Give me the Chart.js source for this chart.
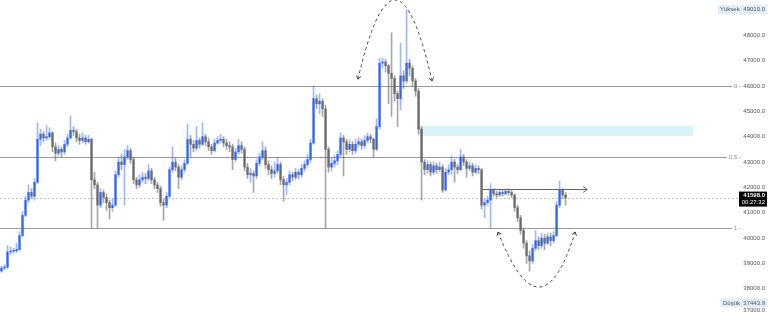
<!DOCTYPE html>
<html lang="tr">
<head>
<meta charset="UTF-8">
<title>Fiyat grafiği</title>
<script src="https://cdn.jsdelivr.net/npm/chart.js"></script>
<style>
  html, body { margin: 0; padding: 0; background: #fff; }
  .wrap { width: 768px; height: 315px; position: relative; }
</style>
</head>
<body>
<div class="wrap"><canvas id="chart"></canvas></div>
<script>
// candle data (one candle per slot, open = previous close)
const firstOpen = 38700;
const closes = [
  38820, 38850, 39450, 39480, 39500, 39550, 40100, 40900, 41500, 41800,
  41650, 42200, 43900, 44100, 43950, 44000, 44150, 43600, 43350, 43500,
  43400, 43700, 43950, 44250, 44200, 43950, 43850, 43950, 43800, 43900,
  42300, 42100, 41300, 41800, 41600, 41400, 41200, 41300, 42500, 43000,
  42900, 43200, 43450, 43100, 42300, 42100, 42300, 42400, 42350, 42650,
  42300, 42100, 41950, 41400, 41300, 41650, 42700, 43000, 42800, 42400,
  42700, 42950, 43900, 43700, 43550, 43850, 43700, 44000, 43800, 43600,
  43450, 43750, 43850, 43900, 43750, 43650, 43600, 43100, 43400, 43650,
  43500, 42800, 42500, 42550, 42450, 42950, 43200, 43450, 42900, 42700,
  42550, 42650, 42900, 42300, 42100, 42200, 42500, 42400, 42600, 42500,
  42750, 42900, 43100, 43750, 45500, 45300, 45400, 45100, 43500, 42800,
  42950, 43050, 43300, 43950, 43800, 43500, 43700, 43450, 43700, 43800,
  43650, 43850, 44000, 43900, 43500, 44400, 46900, 46950, 46800, 46500,
  46300, 45700, 45500, 46400, 46200, 46900, 46700, 46200, 45800, 44300,
  43000, 42700, 42900, 42600, 42850, 42700, 42800, 41900, 42600, 42700,
  43000, 42800, 42700, 43200, 43000, 42750, 42850, 42600, 42750, 42700,
  41300, 41400, 41500, 41900, 41750, 41700, 41800, 41750, 41850, 41800,
  41700, 41200, 40800, 40300, 39800, 39300, 39100, 39600, 39900, 39700,
  40000, 39800, 40050, 39900, 40100, 41300, 41900, 41700, 41598
];
const highs = [
  38900, 38950, 39700, 39650, 39600, 39800, 40250, 41050, 41650, 42100,
  41950, 42350, 44550, 44300, 44200, 44450, 44350, 44200, 43750, 43650,
  43600, 43850, 44100, 44820, 44400, 44300, 44100, 44150, 44050, 44050,
  43950, 42600, 42200, 41950, 41900, 41750, 41500, 41550, 42650, 43200,
  43300, 43500, 43650, 43550, 43200, 42400, 42500, 42600, 42550, 42900,
  42750, 42400, 42200, 42050, 41550, 41800, 42800, 43600, 43150, 42900,
  42850, 43100, 44500, 44050, 43850, 44400, 43950, 44550, 44100, 43950,
  43700, 43900, 44000, 44100, 44000, 43900, 43800, 43700, 43550, 43900,
  43800, 43600, 42950, 42750, 42650, 43100, 43350, 43800, 43600, 43050,
  42850, 43000, 43200, 43000, 42450, 42350, 42650, 42600, 42750, 42700,
  42900, 43050, 43300, 43900, 46000, 45650, 45700, 45500, 45250, 43600,
  43150, 43250, 43450, 44150, 44050, 43900, 43850, 43800, 43900, 43950,
  43900, 44050, 44150, 44100, 43950, 44700, 47100, 47100, 47050, 46850,
  48100, 46400, 45800, 47700, 46600, 49010, 47050, 46800, 46300, 45900,
  44400, 43100, 43050, 43000, 43000, 42950, 43000, 42900, 42750, 42900,
  43250, 43100, 42900, 43500, 43300, 43100, 43000, 42950, 42900, 42850,
  42750, 41550, 41650, 42150, 41950, 41850, 41900, 41900, 41950, 41950,
  41900, 41750, 41300, 40900, 40400, 39900, 39500, 39750, 40300, 40050,
  40200, 40150, 40200, 40200, 40250, 41450, 42250, 41950, 41800
];
const lows = [
  38650, 38750, 38800, 39350, 39400, 39420, 39500, 40050, 40850, 41400,
  41550, 41500, 42150, 43650, 43800, 43850, 43900, 43400, 43050, 43250,
  43200, 43300, 43600, 43900, 44050, 43800, 43700, 43750, 43700, 43750,
  40400, 41950, 40400, 41200, 41400, 41100, 40750, 41050, 41250, 42400,
  42700, 41300, 43100, 42950, 42150, 41950, 42000, 42200, 42150, 42250,
  42150, 41950, 41800, 41250, 40700, 41200, 41600, 42600, 42650, 41950,
  42300, 42600, 42900, 43200, 43400, 43450, 43550, 43650, 43650, 43450,
  43300, 43400, 43700, 43750, 43600, 43500, 43400, 42700, 43000, 43300,
  43350, 42650, 42350, 42200, 41800, 42350, 42850, 43100, 42750, 42500,
  42350, 42400, 42550, 42100, 41450, 41700, 42100, 42250, 42300, 42350,
  42400, 42650, 42800, 43000, 43700, 45100, 44900, 44800, 40400, 42600,
  42650, 42800, 42900, 43200, 42450, 43300, 43400, 43300, 43350, 43600,
  43500, 43550, 43750, 43750, 43200, 43450, 44300, 46700, 46550, 45300,
  44800, 45400, 44400, 45050, 45900, 46100, 46400, 46000, 45600, 44100,
  41500, 42500, 42550, 42450, 42500, 42550, 42600, 41800, 41850, 42500,
  42500, 42200, 42550, 42650, 42850, 42400, 42650, 42450, 42550, 42550,
  41150, 40800, 41300, 40400, 41650, 41600, 41650, 41650, 41700, 41700,
  41600, 41050, 40650, 40150, 39600, 39000, 38700, 39000, 39500, 39550,
  39600, 39550, 39750, 39700, 39800, 40050, 41200, 41550, 41300
];

// axis / markers
const priceTicks = [37000, 38000, 39000, 40000, 41000, 42000, 43000, 44000, 45000, 46000, 47000, 48000];
const fibLevels = [46000, 43200, 40400];
const fibNames = ['0', '0.5', '1'];
const lastPrice = 41598.0;
const countdown = '00:27:32';
const highMark = 49010.0;
const lowMark = 37443.9;
const zone = { from: 139, to: 230.5, low: 44030, high: 44420 };
const arrowLine = { from: 160.2, to: 195.2, price: 41920 };
const topArc = [[118.8, 46270], [131.2, 52550], [143.5, 46200]];
const bottomArc = [[165.5, 40240], [179.8, 35900], [191.2, 40240]];

const idx = closes.map((_, i) => i);
const opens = closes.map((c, i) => i === 0 ? firstOpen : closes[i - 1]);
const isUp = closes.map((c, i) => c >= opens[i]);

const FONT = '"Liberation Sans", Arial, sans-serif';

function arrowHead(ctx, tx, ty, dx, dy, len) {
  const d = Math.hypot(dx, dy);
  const ux = dx / d, uy = dy / d;
  const a = Math.PI / 5;
  ctx.beginPath();
  [a, -a].forEach(r => {
    const bx = -(ux * Math.cos(r) - uy * Math.sin(r));
    const by = -(ux * Math.sin(r) + uy * Math.cos(r));
    ctx.moveTo(tx, ty);
    ctx.lineTo(tx + bx * len, ty + by * len);
  });
  ctx.stroke();
}

function drawArc(ctx, x, y, pts) {
  const p = pts.map(([i, v]) => [x.getPixelForValue(i), y.getPixelForValue(v)]);
  ctx.beginPath();
  ctx.moveTo(p[0][0], p[0][1]);
  ctx.quadraticCurveTo(p[1][0], p[1][1], p[2][0], p[2][1]);
  ctx.stroke();
  ctx.setLineDash([]);
  arrowHead(ctx, p[0][0], p[0][1], p[0][0] - p[1][0], p[0][1] - p[1][1], 4);
  arrowHead(ctx, p[2][0], p[2][1], p[2][0] - p[1][0], p[2][1] - p[1][1], 4);
  ctx.setLineDash([3, 3]);
}

const overlay = {
  id: 'overlay',
  beforeDatasetsDraw(chart) {
    const { ctx, chartArea: a, scales: { x, y } } = chart;
    ctx.save();
    // supply zone
    const zx1 = x.getPixelForValue(zone.from), zx2 = x.getPixelForValue(zone.to);
    const zy1 = y.getPixelForValue(zone.high), zy2 = y.getPixelForValue(zone.low);
    ctx.fillStyle = '#d9f3f8';
    ctx.fillRect(zx1, zy1, zx2 - zx1, zy2 - zy1);

    // fib levels
    ctx.font = '6px ' + FONT;
    ctx.textAlign = 'right';
    ctx.textBaseline = 'middle';
    ctx.lineWidth = 1;
    fibLevels.forEach((v, k) => {
      const py = Math.round(y.getPixelForValue(v)) + 0.5;
      const label = fibNames[k] + ' -';
      const w = ctx.measureText(label).width;
      ctx.strokeStyle = '#9a9a9a';
      ctx.beginPath();
      ctx.moveTo(a.left, py);
      ctx.lineTo(a.right - w - 3, py);
      ctx.stroke();
      ctx.fillStyle = '#8a8a8a';
      ctx.fillText(label, a.right - 1, py);
    });

    // last price line
    const ly = Math.round(y.getPixelForValue(lastPrice)) + 0.5;
    ctx.strokeStyle = '#c4c4c4';
    ctx.setLineDash([2, 2]);
    ctx.beginPath();
    ctx.moveTo(a.left, ly);
    ctx.lineTo(a.right, ly);
    ctx.stroke();
    ctx.restore();
  },
  afterDatasetsDraw(chart) {
    const { ctx, scales: { x, y } } = chart;
    ctx.save();
    ctx.lineWidth = 1;
    // horizontal arrow
    const ay = Math.round(y.getPixelForValue(arrowLine.price)) + 0.5;
    const ax1 = x.getPixelForValue(arrowLine.from), ax2 = x.getPixelForValue(arrowLine.to);
    ctx.strokeStyle = '#666';
    ctx.beginPath();
    ctx.moveTo(ax1, ay);
    ctx.lineTo(ax2, ay);
    ctx.stroke();
    arrowHead(ctx, ax2, ay, 1, 0, 5);

    // dashed arcs
    ctx.strokeStyle = '#444';
    ctx.setLineDash([3, 3]);
    drawArc(ctx, x, y, topArc);
    drawArc(ctx, x, y, bottomArc);
    ctx.restore();
  },
  afterDraw(chart) {
    const { ctx, scales: { y } } = chart;
    const W = chart.width, H = chart.height;
    ctx.save();
    ctx.font = '6px ' + FONT;
    ctx.textBaseline = 'middle';
    ctx.textAlign = 'right';
    ctx.fillStyle = '#555';
    priceTicks.forEach(v => {
      const py = Math.min(y.getPixelForValue(v), H - 5);
      ctx.fillText(v.toFixed(1), W - 3, py);
    });

    // high / low markers
    const mark = (label, val, w) => {
      const py = y.getPixelForValue(val);
      ctx.fillStyle = '#e2edfb';
      ctx.fillRect(W - w, py - 4.5, w - 1, 9);
      ctx.fillStyle = '#555';
      ctx.textAlign = 'left';
      ctx.fillText(label, W - w + 2, py);
      ctx.textAlign = 'right';
      ctx.fillText(val.toFixed(1), W - 3, py);
    };
    mark('Yüksek', highMark, 50);
    mark('Düşük', lowMark, 47);

    // last price box
    const py = y.getPixelForValue(lastPrice);
    ctx.fillStyle = '#000';
    ctx.fillRect(W - 29, py - 6, 28, 15);
    ctx.fillStyle = '#fff';
    ctx.textAlign = 'right';
    ctx.font = 'bold 6px ' + FONT;
    ctx.fillText(lastPrice.toFixed(1), W - 3, py - 2);
    ctx.font = '6px ' + FONT;
    ctx.fillText(countdown, W - 3, py + 5);
    ctx.restore();
  }
};

new Chart(document.getElementById('chart'), {
  type: 'bar',
  data: {
    datasets: [
      {
        label: 'body',
        data: idx.map(i => ({ x: i, y: [opens[i], closes[i]] })),
        backgroundColor: isUp.map(u => u ? '#3064f4' : '#6a6a6a'),
        barThickness: 1.6,
        minBarLength: 1,
        grouped: false,
        order: 0
      },
      {
        label: 'wick',
        data: idx.map(i => ({ x: i, y: [lows[i], highs[i]] })),
        backgroundColor: isUp.map(u => u ? 'rgba(41,98,255,0.45)' : 'rgba(93,93,93,0.55)'),
        barThickness: 1,
        grouped: false,
        order: 1
      }
    ]
  },
  options: {
    responsive: true,
    maintainAspectRatio: false,
    animation: false,
    layout: { padding: { right: 26 } },
    plugins: { legend: { display: false }, tooltip: { enabled: false } },
    scales: {
      x: { type: 'linear', min: -0.5, max: 246.8, offset: false, display: false },
      y: { min: 36967, max: 49392, display: false }
    }
  },
  plugins: [overlay]
});
</script>
</body>
</html>
